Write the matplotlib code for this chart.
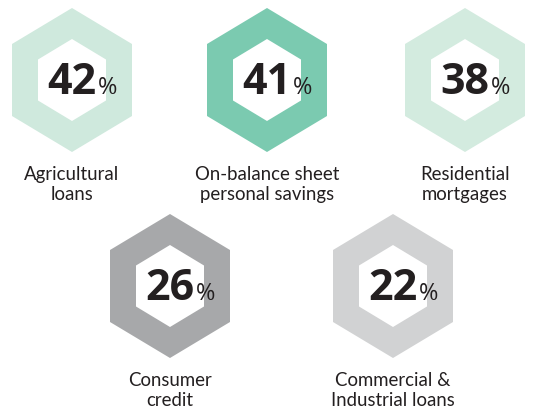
import matplotlib
matplotlib.use("Agg")
import matplotlib.pyplot as plt
from matplotlib.patches import Polygon
import numpy as np

values = [42, 41, 38, 26, 22]
labels = ["Agricultural\nloans", "On-balance sheet\npersonal savings", "Residential\nmortgages",
          "Consumer\ncredit", "Commercial &\nIndustrial loans"]
colors = ["#cfe9dd", "#7bcab0", "#d3ebdf", "#a7a8aa", "#d1d2d3"]

# layout (pixel space)
centers = [(72, 80), (267, 80), (465, 80), (170, 286), (393, 286)]
RX, RY = 60, 72
IRX, IRY = 34, 41
TEXT = "#231f20"

fig = plt.figure(figsize=(5.45, 4.11), dpi=100)
ax = fig.add_axes([0, 0, 1, 1])
ax.set_xlim(0, 545)
ax.set_ylim(411, 0)
ax.axis("off")

ang = np.deg2rad(90 + 60 * np.arange(6))

def hexagon(cx, cy, rx, ry, color):
    xs = cx + rx * np.cos(ang) / np.cos(np.deg2rad(30))
    ys = cy - ry * np.sin(ang)
    return Polygon(np.column_stack([xs, ys]), closed=True, facecolor=color, edgecolor="none")

for (cx, cy), v, lab, c in zip(centers, values, labels, colors):
    ax.add_patch(hexagon(cx, cy, RX, RY, c))
    ax.add_patch(hexagon(cx, cy, IRX, IRY, "white"))
    t = ax.text(cx, cy + 14, f"{v}", ha="center", va="baseline", fontsize=31,
                fontweight="bold", family="Open Sans", color=TEXT)
    ax.annotate("%", xy=(1, cy + 14), xycoords=(t, "data"), xytext=(1, 0),
                textcoords="offset points", ha="left", va="baseline",
                fontsize=17, family="Open Sans", color=TEXT)
    ax.text(cx, cy + 120, lab, ha="center", va="baseline", fontsize=13.4,
            family="Lato", color=TEXT, linespacing=1.25, multialignment="center")

fig.savefig("out.png", dpi=100)
